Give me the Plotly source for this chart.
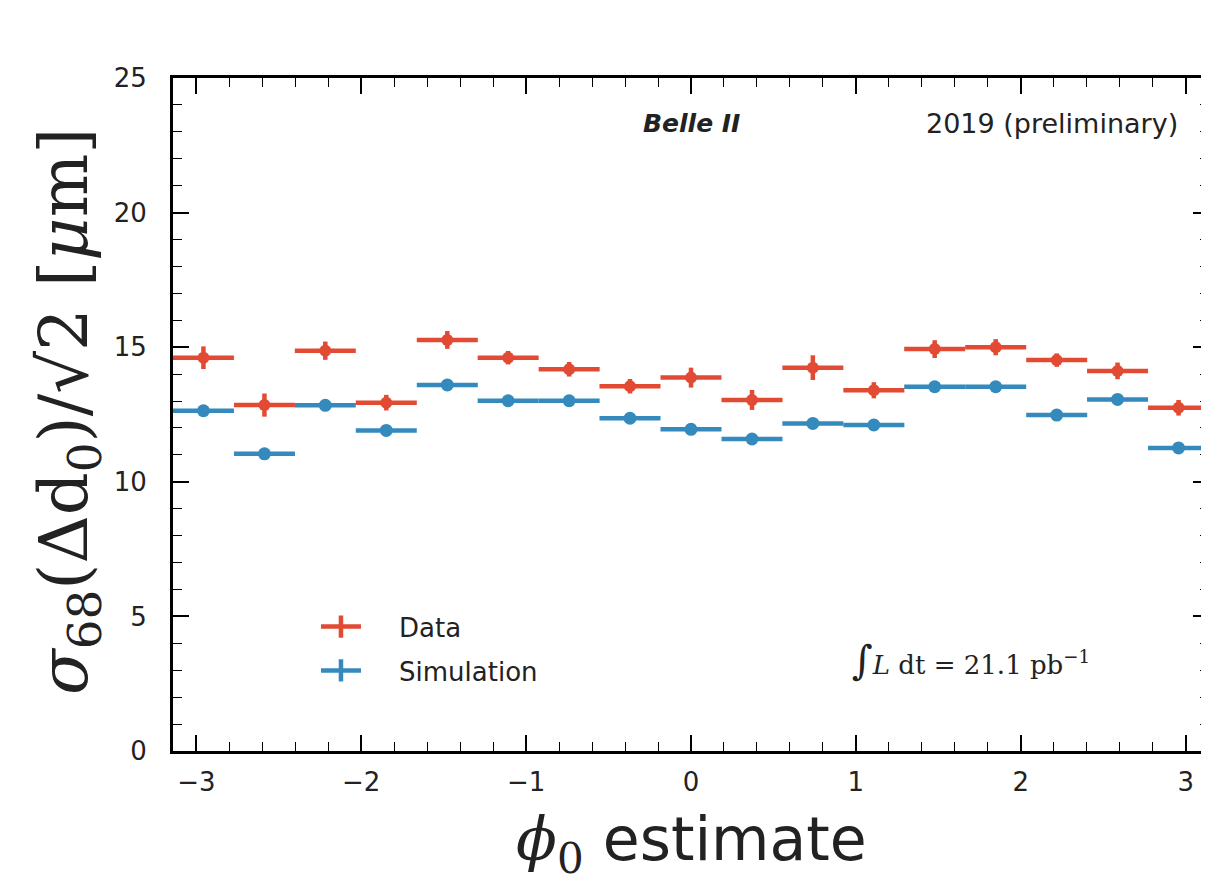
import plotly.graph_objects as go

# ---- data ----
phi_centres = [-2.957, -2.587, -2.218, -1.848, -1.478, -1.109, -0.739, -0.370, 0.0,
               0.370, 0.739, 1.109, 1.478, 1.848, 2.218, 2.587, 2.957]
phi_halfwidth = [0.185] * 17

data_sigma = [14.61, 12.85, 14.87, 12.94, 15.27, 14.61, 14.18, 13.55, 13.87,
              13.04, 14.24, 13.40, 14.93, 15.00, 14.52, 14.12, 12.75]
data_err = [0.42, 0.43, 0.34, 0.29, 0.33, 0.25, 0.27, 0.27, 0.37,
            0.37, 0.46, 0.30, 0.33, 0.30, 0.25, 0.31, 0.29]

sim_sigma = [12.64, 11.04, 12.84, 11.91, 13.60, 13.01, 13.01, 12.36, 11.95,
             11.59, 12.17, 12.11, 13.53, 13.53, 12.48, 13.06, 11.26]
sim_err = [0.10, 0.10, 0.10, 0.10, 0.10, 0.10, 0.10, 0.10, 0.10,
           0.10, 0.10, 0.10, 0.10, 0.10, 0.10, 0.10, 0.10]

x_ticks = [-3, -2, -1, 0, 1, 2, 3]
x_ticklabels = ["\u22123", "\u22122", "\u22121", "0", "1", "2", "3"]
y_ticks = [0, 5, 10, 15, 20, 25]

RED = "#E24A33"
BLUE = "#348ABD"
SANS = "DejaVu Sans"
SERIF = "DejaVu Serif"
NB = "\u00a0" * 4  # gap between legend glyph and label

fig = go.Figure()

for name, y, ey, col, msize in [("Simulation", sim_sigma, sim_err, BLUE, 13),
                                ("Data", data_sigma, data_err, RED, 12)]:
    fig.add_trace(go.Scatter(
        x=phi_centres, y=y, mode="markers", showlegend=False,
        marker=dict(color=col, size=msize),
        error_x=dict(type="data", array=phi_halfwidth, color=col, thickness=4.5, width=0),
        error_y=dict(type="data", array=ey, color=col, thickness=4.5, width=0),
    ))

# legend entries (no plotted points)
for name, col in [("Data", RED), ("Simulation", BLUE)]:
    fig.add_trace(go.Scatter(
        x=[None], y=[None], mode="lines+markers", name=NB + name, legendgroup=name,
        line=dict(color=col, width=4.5),
        marker=dict(symbol="line-ns", size=16, line=dict(color=col, width=4.5)),
    ))

axis_common = dict(
    showline=True, linewidth=3, linecolor="black", mirror="ticks",
    ticks="inside", ticklen=16, tickwidth=1.5, tickcolor="black",
    showgrid=False, zeroline=False, automargin=False,
    tickfont=dict(family=SANS, size=26, color="#222"),
)

fig.update_xaxes(range=[-3.14159, 3.14159], tickvals=x_ticks, ticktext=x_ticklabels,
                 ticklabelstandoff=6,
                 minor=dict(dtick=0.2, ticklen=9, tickwidth=1.2, tickcolor="black", ticks="inside"),
                 **axis_common)
fig.update_yaxes(range=[0, 25], tickvals=y_ticks, ticklabelstandoff=18,
                 minor=dict(dtick=1, ticklen=9, tickwidth=1.2, tickcolor="black", ticks="inside"),
                 **axis_common)

fig.update_layout(
    width=1201, height=872,
    margin=dict(l=165, r=0, t=70, b=129, autoexpand=False),
    plot_bgcolor="white", paper_bgcolor="white",
    legend=dict(x=0.138, y=0.2196, xanchor="left", yanchor="top",
                font=dict(family=SANS, size=26, color="#222"),
                bgcolor="rgba(0,0,0,0)", itemwidth=40, tracegroupgap=7),
    annotations=[
        dict(text="<b><i>Belle II</i></b>", x=0.5, y=0.933, xref="paper", yref="paper",
             xanchor="center", yanchor="middle", showarrow=False,
             font=dict(family=SANS, size=25, color="#222")),
        dict(text="2019 (preliminary)", x=0.972, y=0.933, xref="paper", yref="paper",
             xanchor="right", yanchor="middle", showarrow=False,
             font=dict(family=SANS, size=27, color="#222")),
        dict(text="<span style='font-size:40px'>\u222b</span><i>L</i> dt = 21.1 pb<sup>\u22121</sup>",
             x=0.653, y=0.135,
             xref="paper", yref="paper", xanchor="left", yanchor="middle", showarrow=False,
             font=dict(family=SERIF, size=26, color="#222")),
        dict(text="<i>\u03c3</i><sub>68</sub>(\u0394d<sub>0</sub>)/\u221a2 [<i>\u03bc</i>m]",
             x=-0.1014, y=0.505, xref="paper", yref="paper", textangle=-90,
             xanchor="center", yanchor="middle", showarrow=False,
             font=dict(family=SERIF, size=67, color="#222")),
        dict(text="<span style='font-family:DejaVu Serif'><i>\u03d5</i><sub>0</sub></span> estimate",
             x=0.5, y=-0.137, xref="paper", yref="paper",
             xanchor="center", yanchor="middle", showarrow=False,
             font=dict(family=SANS, size=60, color="#222")),
    ],
)

fig.write_html("out.html")
